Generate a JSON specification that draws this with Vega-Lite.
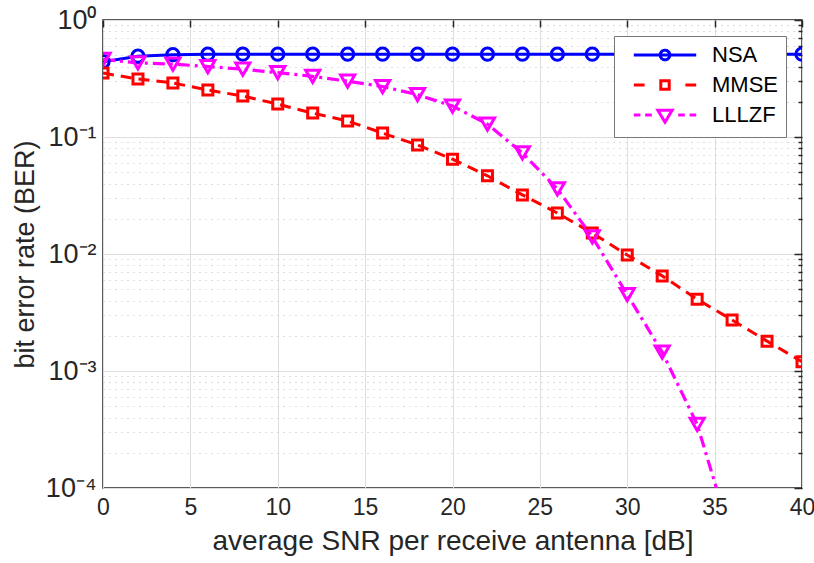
{
  "$schema": "https://vega.github.io/schema/vega-lite/v6.json",
  "width": 699,
  "height": 468,
  "autosize": {"type": "none"},
  "padding": {"left": 103, "top": 20, "right": 12, "bottom": 75},
  "background": "white",
  "config": {
    "view": {"stroke": "#262626", "strokeWidth": 1.5},
    "font": "Liberation Sans",
    "axis": {"labelFont": "Liberation Sans", "titleFont": "Liberation Sans", "labelColor": "#262626", "titleColor": "#262626", "titleFontWeight": "normal", "domain": false, "tickColor": "#262626", "tickWidth": 1.5}
  },
  "data": {
    "values": [
      {"series": "NSA", "snr": 0, "ber": 0.44},
      {"series": "NSA", "snr": 2, "ber": 0.49},
      {"series": "NSA", "snr": 4, "ber": 0.505},
      {"series": "NSA", "snr": 6, "ber": 0.51},
      {"series": "NSA", "snr": 8, "ber": 0.51},
      {"series": "NSA", "snr": 10, "ber": 0.51},
      {"series": "NSA", "snr": 12, "ber": 0.51},
      {"series": "NSA", "snr": 14, "ber": 0.51},
      {"series": "NSA", "snr": 16, "ber": 0.51},
      {"series": "NSA", "snr": 18, "ber": 0.51},
      {"series": "NSA", "snr": 20, "ber": 0.51},
      {"series": "NSA", "snr": 22, "ber": 0.51},
      {"series": "NSA", "snr": 24, "ber": 0.51},
      {"series": "NSA", "snr": 26, "ber": 0.51},
      {"series": "NSA", "snr": 28, "ber": 0.51},
      {"series": "NSA", "snr": 30, "ber": 0.51},
      {"series": "NSA", "snr": 32, "ber": 0.51},
      {"series": "NSA", "snr": 34, "ber": 0.51},
      {"series": "NSA", "snr": 36, "ber": 0.51},
      {"series": "NSA", "snr": 38, "ber": 0.51},
      {"series": "NSA", "snr": 40, "ber": 0.51},
      {"series": "MMSE", "snr": 0, "ber": 0.352},
      {"series": "MMSE", "snr": 2, "ber": 0.313},
      {"series": "MMSE", "snr": 4, "ber": 0.29},
      {"series": "MMSE", "snr": 6, "ber": 0.252},
      {"series": "MMSE", "snr": 8, "ber": 0.224},
      {"series": "MMSE", "snr": 10, "ber": 0.191},
      {"series": "MMSE", "snr": 12, "ber": 0.16},
      {"series": "MMSE", "snr": 14, "ber": 0.137},
      {"series": "MMSE", "snr": 16, "ber": 0.108},
      {"series": "MMSE", "snr": 18, "ber": 0.0855},
      {"series": "MMSE", "snr": 20, "ber": 0.0646},
      {"series": "MMSE", "snr": 22, "ber": 0.0466},
      {"series": "MMSE", "snr": 24, "ber": 0.032},
      {"series": "MMSE", "snr": 26, "ber": 0.0224},
      {"series": "MMSE", "snr": 28, "ber": 0.0151},
      {"series": "MMSE", "snr": 30, "ber": 0.0098},
      {"series": "MMSE", "snr": 32, "ber": 0.0065},
      {"series": "MMSE", "snr": 34, "ber": 0.0041},
      {"series": "MMSE", "snr": 36, "ber": 0.00273},
      {"series": "MMSE", "snr": 38, "ber": 0.0018},
      {"series": "MMSE", "snr": 40, "ber": 0.0012},
      {"series": "LLLZF", "snr": 0, "ber": 0.46},
      {"series": "LLLZF", "snr": 2, "ber": 0.43},
      {"series": "LLLZF", "snr": 4, "ber": 0.42},
      {"series": "LLLZF", "snr": 6, "ber": 0.4},
      {"series": "LLLZF", "snr": 8, "ber": 0.38},
      {"series": "LLLZF", "snr": 10, "ber": 0.355},
      {"series": "LLLZF", "snr": 12, "ber": 0.33},
      {"series": "LLLZF", "snr": 14, "ber": 0.3},
      {"series": "LLLZF", "snr": 16, "ber": 0.27},
      {"series": "LLLZF", "snr": 18, "ber": 0.23},
      {"series": "LLLZF", "snr": 20, "ber": 0.184},
      {"series": "LLLZF", "snr": 22, "ber": 0.129},
      {"series": "LLLZF", "snr": 24, "ber": 0.073},
      {"series": "LLLZF", "snr": 26, "ber": 0.036},
      {"series": "LLLZF", "snr": 28, "ber": 0.014},
      {"series": "LLLZF", "snr": 30, "ber": 0.0045},
      {"series": "LLLZF", "snr": 32, "ber": 0.00145},
      {"series": "LLLZF", "snr": 34, "ber": 0.00035},
      {"series": "LLLZF", "snr": 36, "ber": 0.000036}
    ]
  },
  "encoding": {
    "x": {"field": "snr", "type": "quantitative", "scale": {"domain": [0, 40], "nice": false}, "axis": null},
    "y": {"field": "ber", "type": "quantitative", "scale": {"type": "log", "domain": [0.0001, 1], "nice": false}, "axis": null},
    "color": {
      "field": "series", "type": "nominal",
      "scale": {"domain": ["NSA", "MMSE", "LLLZF"], "range": ["#0000ff", "#ff0000", "#ff00ff"]},
      "legend": {
        "title": null, "orient": "top-right", "offset": 16,
        "strokeColor": "#777777", "fillColor": "white", "padding": 8,
        "labelFont": "Liberation Sans", "labelFontSize": 22, "labelColor": "#000000",
        "symbolSize": 144, "symbolStrokeWidth": 3, "symbolOpacity": 1, "rowPadding": 8, "symbolOffset": 32, "labelOffset": 36,
        "encode": {
          "symbols": {
            "update": {
              "shape": {"signal": "datum.value == 'NSA' ? 'M-5.2,0H5.2M-0.8,0A0.8,0.8 0 1,1 0.8,0A0.8,0.8 0 1,1 -0.8,0Z' : datum.value == 'MMSE' ? 'M-5.2,0H-3.4M3.4,0H5.2M-0.7,-0.7H0.7V0.7H-0.7Z' : 'M-5.2,0H-4.1M-3.3,0H-2.2M2.2,0H3.3M4.1,0H5.2M-1.2,-0.8L1.2,-0.8L0,1.2Z'"},
              "fill": {"value": "transparent"},
              "strokeDash": {"value": [1, 0]}
            }
          }
        }
      }
    }
  },
  "layer": [
    {
      "transform": [{"filter": "datum.series == 'NSA'"}],
      "mark": {"type": "line", "strokeWidth": 3, "clip": true},
      "encoding": {
        "x": {
          "field": "snr", "type": "quantitative",
          "axis": {
            "orient": "bottom", "values": [0, 5, 10, 15, 20, 25, 30, 35, 40],
            "title": "average SNR per receive antenna [dB]", "titleFontSize": 28, "titlePadding": 8,
            "labelFontSize": 23, "labelPadding": 8, "ticks": false, "labelFlush": false,
            "grid": true, "gridColor": "#dedede", "gridWidth": 1
          }
        },
        "y": {
          "field": "ber", "type": "quantitative",
          "axis": {
            "orient": "left",
            "values": [0.0001, 0.0002, 0.0003, 0.0004, 0.0005, 0.0006, 0.0007, 0.0008, 0.0009, 0.001, 0.002, 0.003, 0.004, 0.005, 0.006, 0.007, 0.008, 0.009, 0.01, 0.02, 0.03, 0.04, 0.05, 0.06, 0.07, 0.08, 0.09, 0.1, 0.2, 0.3, 0.4, 0.5, 0.6, 0.7, 0.8, 0.9, 1],
            "labelExpr": "abs(log(datum.value)/LN10 - round(log(datum.value)/LN10)) < 0.001 ? '10' + ['⁰','⁻¹','⁻²','⁻³','⁻⁴'][-round(log(datum.value)/LN10)] : ''",
            "title": "bit error rate (BER)", "titleFontSize": 27, "titlePadding": 6,
            "labelFontSize": 27, "labelPadding": 7, "ticks": false, "labelOverlap": false, "labelFlush": false,
            "grid": true,
            "gridColor": {"condition": {"test": "abs(log(datum.value)/LN10 - round(log(datum.value)/LN10)) < 0.001", "value": "#dedede"}, "value": "#bdbdbd"},
            "gridDash": {"condition": {"test": "abs(log(datum.value)/LN10 - round(log(datum.value)/LN10)) < 0.001", "value": []}, "value": [1, 5]}
          }
        }
      }
    },
    {
      "transform": [{"filter": "datum.series == 'MMSE'"}],
      "mark": {"type": "line", "strokeWidth": 3, "strokeDash": [11, 7], "clip": true}
    },
    {
      "transform": [{"filter": "datum.series == 'LLLZF'"}],
      "mark": {"type": "line", "strokeWidth": 3.2, "strokeDash": [12, 5, 3, 5], "clip": true}
    },
    {
      "transform": [{"filter": "datum.series == 'NSA'"}],
      "mark": {"type": "point", "shape": "circle", "size": 150, "filled": false, "opacity": 1, "strokeWidth": 3, "clip": true},
      "encoding": {
        "x": {
          "field": "snr", "type": "quantitative",
          "axis": {"orient": "top", "values": [0, 5, 10, 15, 20, 25, 30, 35, 40], "labels": false, "title": null, "grid": false, "tickSize": -7}
        },
        "y": {
          "field": "ber", "type": "quantitative",
          "axis": {
            "orient": "right", "labels": false, "title": null, "grid": false,
            "values": [0.0001, 0.0002, 0.0003, 0.0004, 0.0005, 0.0006, 0.0007, 0.0008, 0.0009, 0.001, 0.002, 0.003, 0.004, 0.005, 0.006, 0.007, 0.008, 0.009, 0.01, 0.02, 0.03, 0.04, 0.05, 0.06, 0.07, 0.08, 0.09, 0.1, 0.2, 0.3, 0.4, 0.5, 0.6, 0.7, 0.8, 0.9, 1],
            "tickSize": {"condition": {"test": "abs(log(datum.value)/LN10 - round(log(datum.value)/LN10)) < 0.001", "value": -8}, "value": -4}
          }
        }
      }
    },
    {
      "transform": [{"filter": "datum.series == 'MMSE'"}],
      "mark": {"type": "point", "shape": "square", "size": 100, "filled": false, "opacity": 1, "strokeWidth": 3, "clip": true}
    },
    {
      "transform": [{"filter": "datum.series == 'LLLZF'"}],
      "mark": {"type": "point", "shape": "triangle-down", "size": 200, "filled": false, "opacity": 1, "strokeWidth": 3, "clip": true}
    }
  ],
  "resolve": {"axis": {"x": "independent", "y": "independent"}}
}
